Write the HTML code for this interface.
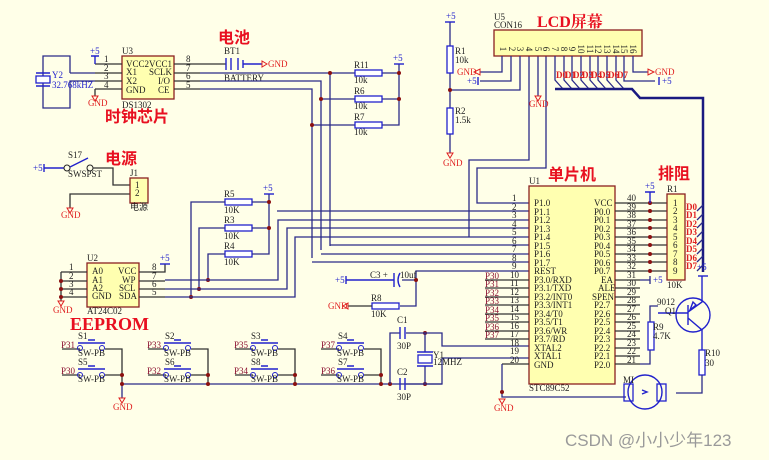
<!DOCTYPE html>
<html><head><meta charset="utf-8"><style>
body{margin:0;background:#FFFFE8;}
svg{display:block;font-family:"Liberation Serif",serif;}
.w{stroke:#2b2b88;stroke-width:1.3;fill:none}
.k{stroke:#333;stroke-width:1.3;fill:none}
.b{stroke:#2222cc;stroke-width:1.4;fill:none}
.r{fill:#fff;stroke:#2222cc;stroke-width:1.3}
.ic{fill:#FFFFB0;stroke:#8b2020;stroke-width:1.3}
.t{font-size:9px;fill:#222}
.bl{font-size:9px;fill:#2222cc}
.rd{font-size:9px;fill:#e02020}
.mr{font-size:9px;fill:#8b1030}
.big{font-family:"Liberation Sans","Noto Sans CJK SC",sans-serif;font-weight:bold;fill:#e81020}
</style></head><body>
<svg width="769" height="460" viewBox="0 0 769 460">
<rect width="769" height="460" fill="#FFFFE8"/>
<!-- DS1302 -->
<rect class="ic" x="122" y="56" width="52" height="43"/>
<text class="t" x="122" y="54">U3</text><text class="t" x="122" y="108">DS1302</text>
<text class="t" x="126" y="67">VCC2</text><text class="t" x="126" y="75">X1</text><text class="t" x="126" y="84">X2</text><text class="t" x="126" y="93">GND</text>
<text class="t" x="149" y="67">VCC1</text><text class="t" x="149" y="75">SCLK</text><text class="t" x="158" y="84">I/O</text><text class="t" x="158" y="93">CE</text>
<path class="k" d="M95 64H122M95 73H122M95 81H122M95 89H122M174 64H226M174 73H200M174 81H200M174 89H200"/>
<text class="t" x="104" y="62">1</text><text class="t" x="104" y="71">2</text><text class="t" x="104" y="79">3</text><text class="t" x="104" y="88">4</text>
<text class="t" x="186" y="62">8</text><text class="t" x="186" y="71">7</text><text class="t" x="186" y="79">6</text><text class="t" x="186" y="88">5</text>
<path class="b" d="M95 64V56M91 56H99"/><text class="bl" x="90" y="54">+5</text>
<path class="k" d="M95 89V96"/><path d="M92 96H98L95 101Z" fill="none" stroke="#e02020"/><text class="rd" x="88" y="106">GND</text>
<!-- Y2 -->
<path class="w" d="M70 73H95M70 73V56H43V108H70V81H95"/>
<rect class="r" x="36" y="76" width="14" height="7"/><path class="b" d="M36 73H50M36 86H50"/>
<text class="bl" x="52" y="78">Y2</text><text class="bl" x="52" y="88">32.768kHZ</text>
<!-- battery -->
<path class="b" d="M226 58V70M231 58V70M238 58V70M243 60V68M243 64H262"/><path d="M262 61V67L267 64Z" fill="none" stroke="#e02020"/>
<text class="rd" x="268" y="67">GND</text><text class="t" x="224" y="54">BT1</text><text class="t" x="224" y="81">BATTERY</text>
<path class="w" d="M200 73H355M200 81H321V250M200 89H312V258M330 73V246M321 99H355M312 125H355M382 73H399V125H382M382 99H399M399 73V64"/>
<path class="b" d="M394 64H404"/><text class="bl" x="393" y="61">+5</text>
<rect class="r" x="355" y="70" width="27" height="6"/><rect class="r" x="355" y="96" width="27" height="6"/><rect class="r" x="355" y="122" width="27" height="6"/>
<text class="t" x="354" y="68">R11</text><text class="t" x="354" y="83">10k</text><text class="t" x="354" y="94">R6</text><text class="t" x="354" y="109">10k</text><text class="t" x="354" y="120">R7</text><text class="t" x="354" y="135">10k</text>
<g fill="#8b1010"><circle cx="330" cy="73" r="2"/><circle cx="321" cy="99" r="2"/><circle cx="312" cy="125" r="2"/><circle cx="399" cy="73" r="2"/><circle cx="399" cy="99" r="2"/></g>
<text class="big" x="218" y="43" font-size="16">电池</text>
<text class="big" x="105" y="122" font-size="16">时钟芯片</text>
<!-- power -->
<path class="b" d="M44 164V172M44 168H64"/><text class="bl" x="33" y="171">+5</text>
<circle cx="67" cy="168" r="3" fill="none" stroke="#222"/><circle cx="90" cy="168" r="3" fill="none" stroke="#222"/><path class="b" d="M70 167L88 158"/>
<text class="t" x="68" y="158">S17</text><text class="t" x="68" y="177">SWSPST</text>
<path class="k" d="M93 168H113V185H130M130 194H70V208"/>
<path d="M67 208H73L70 213Z" fill="none" stroke="#e02020"/><text class="rd" x="61" y="218">GND</text>
<rect class="ic" x="130" y="178" width="18" height="25"/><text class="t" x="135" y="188">1</text><text class="t" x="135" y="196">2</text>
<text class="t" x="130" y="176">J1</text><text class="t" x="130" y="210">电源</text>
<text class="big" x="105" y="164" font-size="16">电源</text>
<!-- R5 R3 R4 -->
<rect class="r" x="225" y="199" width="27" height="6"/><rect class="r" x="225" y="225" width="27" height="6"/><rect class="r" x="225" y="251" width="27" height="6"/>
<text class="t" x="224" y="197">R5</text><text class="t" x="224" y="213">10K</text><text class="t" x="224" y="223">R3</text><text class="t" x="224" y="239">10K</text><text class="t" x="224" y="249">R4</text><text class="t" x="224" y="265">10K</text>
<path class="w" d="M252 202H269V254H252M252 228H269M269 202V194M225 202H191V297M225 228H199V289M225 254H208V280"/>
<path class="b" d="M264 194H274"/><text class="bl" x="263" y="191">+5</text>
<!-- U2 -->
<rect class="ic" x="87" y="263" width="52" height="44"/>
<text class="t" x="87" y="261">U2</text><text class="t" x="87" y="314">AT24C02</text>
<text class="t" x="92" y="274">A0</text><text class="t" x="92" y="283">A1</text><text class="t" x="92" y="291">A2</text><text class="t" x="92" y="299">GND</text>
<text class="t" x="118" y="274">VCC</text><text class="t" x="122" y="283">WP</text><text class="t" x="119" y="291">SCL</text><text class="t" x="119" y="299">SDA</text>
<path class="k" d="M61 272H87M61 281H87M61 289H87M61 297H87M61 272V301M139 272H165V264M139 281H165M139 289H165M139 297H165"/>
<text class="t" x="69" y="270">1</text><text class="t" x="69" y="279">2</text><text class="t" x="69" y="287">3</text><text class="t" x="69" y="295">4</text>
<text class="t" x="152" y="270">8</text><text class="t" x="152" y="279">7</text><text class="t" x="152" y="287">6</text><text class="t" x="152" y="295">5</text>
<path class="b" d="M160 264H170"/><text class="bl" x="160" y="261">+5</text>
<path d="M58 301H64L61 306Z" fill="none" stroke="#e02020"/><text class="rd" x="53" y="313">GND</text>
<g fill="#8b1010"><circle cx="61" cy="281" r="2"/><circle cx="61" cy="289" r="2"/><circle cx="61" cy="297" r="2"/><circle cx="208" cy="280" r="2"/><circle cx="199" cy="289" r="2"/><circle cx="191" cy="297" r="2"/><circle cx="269" cy="202" r="2"/><circle cx="269" cy="228" r="2"/></g>
<path class="w" d="M165 280H278V220H529M165 289H287V228H529M165 297H295V237H529M277 211H529M529 203H477V168H546V56M529 245H330M529 254H321M529 262H312M529 271H416V306H400M416 280H402M469 237V160H529V56M538 56V96M529 56V56"/>
<text class="big" x="70" y="330" font-size="18" style="font-family:'Liberation Serif',serif">EEPROM</text>
<!-- C3 R8 -->
<path class="b" d="M346 276V284M346 280H394M394 273V287"/><path class="b" d="M400 273Q396 280 400 287"/>
<text class="bl" x="335" y="283">+5</text><text class="t" x="370" y="278">C3 +</text><text class="t" x="400" y="278">10uf</text>
<rect class="r" x="372" y="303" width="27" height="6"/><path class="k" d="M348 306H372"/><text class="t" x="371" y="301">R8</text><text class="t" x="371" y="317">10K</text>
<path d="M348 303V309L343 306Z" fill="none" stroke="#e02020"/><text class="rd" x="328" y="309">GND</text>
<circle cx="416" cy="280" r="2" fill="#8b1010"/>
<!-- switches -->
<g id="sw">
<path class="k" d="M62 349H80M62 375H80"/><path class="b" d="M78 343H105M88 340H95M78 369H105M88 366H95"/>
<circle cx="80" cy="348" r="2.5" fill="none" stroke="#2222cc"/><circle cx="102" cy="348" r="2.5" fill="none" stroke="#2222cc"/>
<circle cx="80" cy="375" r="2.5" fill="none" stroke="#2222cc"/><circle cx="102" cy="375" r="2.5" fill="none" stroke="#2222cc"/>
<path class="k" d="M105 349H122V384M105 375H122"/>
<text class="t" x="78" y="356">SW-PB</text><text class="t" x="78" y="382">SW-PB</text>
</g>
<use href="#sw" x="86"/><use href="#sw" x="173"/><use href="#sw" x="259"/>
<text class="t" x="78" y="339">S1</text><text class="t" x="78" y="365">S5</text><text class="t" x="165" y="339">S2</text><text class="t" x="165" y="365">S6</text>
<text class="t" x="251" y="339">S3</text><text class="t" x="251" y="365">S8</text><text class="t" x="338" y="339">S4</text><text class="t" x="338" y="365">S7</text>
<text class="mr" x="61" y="348">P31</text><text class="mr" x="61" y="374">P30</text><text class="mr" x="147" y="348">P33</text><text class="mr" x="147" y="374">P32</text>
<text class="mr" x="234" y="348">P35</text><text class="mr" x="234" y="374">P34</text><text class="mr" x="321" y="348">P37</text><text class="mr" x="321" y="374">P36</text>
<path class="w" d="M122 384H442V358M122 384V398"/><path d="M119 398H125L122 403Z" fill="none" stroke="#e02020"/><text class="rd" x="113" y="410">GND</text>
<g fill="#8b1010"><circle cx="122" cy="375" r="2"/><circle cx="122" cy="384" r="2"/><circle cx="208" cy="375" r="2"/><circle cx="208" cy="384" r="2"/><circle cx="295" cy="375" r="2"/><circle cx="295" cy="384" r="2"/><circle cx="381" cy="375" r="2"/><circle cx="381" cy="384" r="2"/><circle cx="390" cy="384" r="2"/><circle cx="425" cy="333" r="2"/><circle cx="425" cy="384" r="2"/></g>
<!-- crystal -->
<path class="w" d="M390 384V333H400M406 333H442V346H529M406 384H442M442 358H529M425 333V352M425 366V384"/>
<path class="b" d="M400 327V339M405 327V339M400 378V390M405 378V390M417 352H433M417 366H433"/><rect class="r" x="418" y="355" width="14" height="8"/>
<text class="t" x="397" y="323">C1</text><text class="t" x="397" y="349">30P</text><text class="t" x="397" y="375">C2</text><text class="t" x="397" y="400">30P</text>
<text class="t" x="433" y="358">Y1</text><text class="t" x="433" y="365">12MHZ</text>
<!-- LCD -->
<rect class="ic" x="494" y="30" width="148" height="26"/>
<text class="t" x="494" y="20">U5</text><text class="t" x="494" y="28">CON16</text>
<text class="big" x="537" y="27" font-size="16" style="font-family:'Liberation Serif','Noto Serif CJK SC',serif">LCD屏幕</text>
<g class="t" font-size="7.5" text-anchor="middle">
<text transform="translate(500,49) rotate(90)">1</text><text transform="translate(509,49) rotate(90)">2</text><text transform="translate(517,49) rotate(90)">3</text><text transform="translate(526,49) rotate(90)">4</text><text transform="translate(535,49) rotate(90)">5</text><text transform="translate(543,49) rotate(90)">6</text><text transform="translate(552,49) rotate(90)">7</text><text transform="translate(561,49) rotate(90)">8</text><text transform="translate(569,49) rotate(90)">9</text><text transform="translate(578,49) rotate(90)">10</text><text transform="translate(587,49) rotate(90)">11</text><text transform="translate(595,49) rotate(90)">12</text><text transform="translate(604,49) rotate(90)">13</text><text transform="translate(613,49) rotate(90)">14</text><text transform="translate(621,49) rotate(90)">15</text><text transform="translate(630,49) rotate(90)">16</text></g>
<path class="w" d="M502 56V72H480M511 56V81H480M520 56V90H450M555 56V80L563 89M564 56V80L572 89M572 56V80L580 89M581 56V80L589 89M590 56V80L598 89M598 56V80L606 89M607 56V80L615 89M616 56V80L624 89M624 56V81H655M633 56V72H648"/>
<path d="M555 89H632L640 98H703V272" stroke="#1a1a80" stroke-width="2.5" fill="none"/>
<g class="rd" font-size="6.5" font-weight="bold"><text x="556" y="78">D0</text><text x="565" y="78">D1</text><text x="573" y="78">D2</text><text x="582" y="78">D3</text><text x="591" y="78">D4</text><text x="599" y="78">D5</text><text x="608" y="78">D6</text><text x="617" y="78">D7</text></g>
<path d="M480 69V75L474 72Z" fill="none" stroke="#e02020"/><text class="rd" x="457" y="75">GND</text>
<path class="b" d="M478 77V85"/><text class="bl" x="467" y="84">+5</text>
<path d="M648 69V75L654 72Z" fill="none" stroke="#e02020"/><text class="rd" x="655" y="75">GND</text>
<path class="b" d="M659 77V85"/><text class="bl" x="662" y="84">+5</text>
<path d="M535 96H541L538 101Z" fill="none" stroke="#e02020"/><text class="rd" x="529" y="107">GND</text>
<!-- R1 R2 -->
<path class="w" d="M450 22V46M450 73V108M450 134V153"/><path class="b" d="M445 22H455"/><text class="bl" x="446" y="19">+5</text>
<rect class="r" x="447" y="46" width="6" height="27"/><rect class="r" x="447" y="108" width="6" height="26"/>
<text class="t" x="455" y="54">R1</text><text class="t" x="455" y="63">10k</text><text class="t" x="455" y="114">R2</text><text class="t" x="455" y="123">1.5k</text>
<circle cx="450" cy="90" r="2" fill="#8b1010"/>
<path d="M447 153H453L450 158Z" fill="none" stroke="#e02020"/><text class="rd" x="443" y="166">GND</text>
<!-- U1 -->
<rect class="ic" x="529" y="186" width="86" height="198"/>
<text class="big" x="548" y="180" font-size="16">单片机</text><text class="t" x="529" y="184">U1</text><text class="t" x="529" y="391">STC89C52</text>
<g class="t" font-size="8.5">
<text x="534" y="206">P1.0</text><text x="534" y="215">P1.1</text><text x="534" y="223">P1.2</text><text x="534" y="232">P1.3</text><text x="534" y="240">P1.4</text><text x="534" y="249">P1.5</text><text x="534" y="257">P1.6</text><text x="534" y="266">P1.7</text><text x="534" y="274">REST</text>
<text x="534" y="283">P3.0/RXD</text><text x="534" y="291">P3.1/TXD</text><text x="534" y="300">P3.2/INT0</text><text x="534" y="308">P3.3/INT1</text><text x="534" y="317">P3.4/T0</text><text x="534" y="325">P3.5/T1</text><text x="534" y="334">P3.6/WR</text><text x="534" y="342">P3.7/RD</text><text x="534" y="351">XTAL2</text><text x="534" y="359">XTAL1</text><text x="534" y="368">GND</text>
<text x="594" y="206">VCC</text><text x="594" y="215">P0.0</text><text x="594" y="223">P0.1</text><text x="594" y="232">P0.2</text><text x="594" y="240">P0.3</text><text x="594" y="249">P0.4</text><text x="594" y="257">P0.5</text><text x="594" y="266">P0.6</text><text x="594" y="274">P0.7</text>
<text x="601" y="283">EA</text><text x="598" y="291">ALE</text><text x="592" y="300">SPEN</text><text x="594" y="308">P2.7</text><text x="594" y="317">P2.6</text><text x="594" y="325">P2.5</text><text x="594" y="334">P2.4</text><text x="594" y="342">P2.3</text><text x="594" y="351">P2.2</text><text x="594" y="359">P2.1</text><text x="594" y="368">P2.0</text>
<text x="512" y="201">1</text><text x="512" y="210">2</text><text x="512" y="218">3</text><text x="512" y="227">4</text><text x="512" y="235">5</text><text x="512" y="244">6</text><text x="512" y="252">7</text><text x="512" y="261">8</text><text x="512" y="269">9</text>
<text x="510" y="278">10</text><text x="510" y="286">11</text><text x="510" y="295">12</text><text x="510" y="303">13</text><text x="510" y="312">14</text><text x="510" y="320">15</text><text x="510" y="329">16</text><text x="510" y="337">17</text><text x="510" y="346">18</text><text x="510" y="354">19</text><text x="510" y="363">20</text>
<text x="627" y="201">40</text><text x="627" y="210">39</text><text x="627" y="218">38</text><text x="627" y="227">37</text><text x="627" y="235">36</text><text x="627" y="244">35</text><text x="627" y="252">34</text><text x="627" y="261">33</text><text x="627" y="269">32</text>
<text x="627" y="278">31</text><text x="627" y="286">30</text><text x="627" y="295">29</text><text x="627" y="303">28</text><text x="627" y="312">27</text><text x="627" y="320">26</text><text x="627" y="329">25</text><text x="627" y="337">24</text><text x="627" y="346">23</text><text x="627" y="354">22</text><text x="627" y="363">21</text>
</g>
<g class="mr" font-size="8.5"><text x="485" y="279">P30</text><text x="485" y="287">P31</text><text x="485" y="296">P32</text><text x="485" y="304">P33</text><text x="485" y="313">P34</text><text x="485" y="321">P35</text><text x="485" y="330">P36</text><text x="485" y="338">P37</text></g>
<path class="k" d="M485 280H529M485 288H529M485 297H529M485 305H529M485 314H529M485 322H529M485 331H529M485 339H529M502 364H529V364M615 203H667M615 211H667M615 220H667M615 228H667M615 237H667M615 245H667M615 254H667M615 262H667M615 271H667M615 280H640M615 288H640M615 297H640M615 305H640M615 314H640M615 322H640M615 331H640M615 339H640M615 348H640M615 356H640M615 364H640"/>
<path class="w" d="M502 364V397H626M640 364H650V350M650 322V306H658M640 280H650M650 276V284"/>
<text class="bl" x="653" y="283">+5</text>
<g fill="#8b1010"><circle cx="650" cy="203" r="2"/><circle cx="650" cy="211" r="2"/><circle cx="650" cy="220" r="2"/><circle cx="650" cy="228" r="2"/><circle cx="650" cy="237" r="2"/><circle cx="650" cy="245" r="2"/><circle cx="650" cy="254" r="2"/><circle cx="650" cy="262" r="2"/><circle cx="650" cy="271" r="2"/><circle cx="502" cy="392" r="2"/></g>
<path d="M499 399H505L502 404Z" fill="none" stroke="#e02020"/><text class="rd" x="494" y="411">GND</text>
<!-- R1 pack -->
<rect class="ic" x="667" y="194" width="18" height="86"/><text class="t" x="667" y="192">R1</text><text class="t" x="667" y="288">10K</text>
<text class="big" x="658" y="179" font-size="16">排阻</text>
<path class="b" d="M650 203V192M645 192H655"/><text class="bl" x="645" y="189">+5</text>
<g class="t" font-size="8"><text x="673" y="206">1</text><text x="673" y="214">2</text><text x="673" y="223">3</text><text x="673" y="231">4</text><text x="673" y="240">5</text><text x="673" y="248">6</text><text x="673" y="257">7</text><text x="673" y="265">8</text><text x="673" y="274">9</text></g>
<g class="rd" font-size="7" font-weight="bold"><text x="686" y="210">D0</text><text x="686" y="218">D1</text><text x="686" y="227">D2</text><text x="686" y="235">D3</text><text x="686" y="244">D4</text><text x="686" y="252">D5</text><text x="686" y="261">D6</text><text x="686" y="269">D7</text></g>
<path class="w" d="M697 211L703 205M697 220L703 214M697 228L703 222M697 237L703 231M697 245L703 239M697 254L703 248M697 262L703 256M697 271L703 265"/>
<!-- transistor -->
<circle cx="693" cy="315" r="17" fill="none" stroke="#2222cc" stroke-width="1.4"/>
<path class="b" d="M688 305V325M658 313H688M688 312L702 302V276M688 318L702 330V350"/>
<path class="b" d="M696 305L690 310L693 302Z" fill="#2222cc"/>
<path class="b" d="M698 276H708"/><text class="bl" x="697" y="270">+5</text>
<text class="t" x="657" y="305">9012</text><text class="t" x="665" y="314">Q1</text>
<rect class="r" x="648" y="322" width="6" height="28"/><text class="t" x="653" y="330">R9</text><text class="t" x="653" y="339">4.7K</text>
<rect class="r" x="699" y="350" width="6" height="25"/><text class="t" x="705" y="356">R10</text><text class="t" x="705" y="366">30</text>
<path class="w" d="M702 375V393H676"/>
<!-- motor -->
<circle cx="645" cy="392" r="17" fill="none" stroke="#2222cc" stroke-width="1.4"/>
<rect x="624" y="384" width="9" height="17" fill="none" stroke="#2222cc" stroke-width="1.3"/><rect x="657" y="384" width="9" height="17" fill="none" stroke="#2222cc" stroke-width="1.3"/>
<text class="t" x="623" y="383">MI</text><path class="b" d="M642 390L647 392L642 394"/>
<text x="565" y="446" font-family="'Liberation Sans','Noto Sans CJK SC',sans-serif" font-size="17" fill="#9a9a9a">CSDN @小小少年123</text>
</svg>
</body></html>
